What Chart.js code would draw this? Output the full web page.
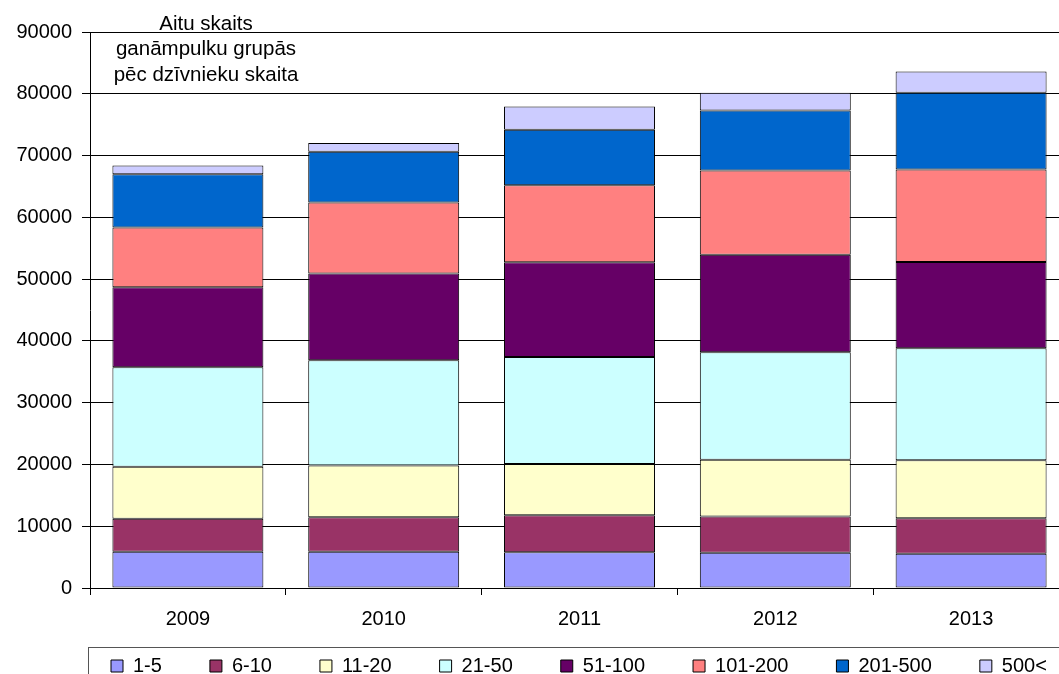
<!DOCTYPE html>
<html>
<head>
<meta charset="utf-8">
<script src="https://cdn.jsdelivr.net/npm/chart.js@4/dist/chart.umd.min.js"></script>
<style>
	html, body { margin: 0; padding: 0; background: #fff; overflow: hidden; }
	canvas { display: block; }
</style>
</head>
<body>
<canvas id="sheep-chart" width="1069" height="709"></canvas>
<script>
//Aitu skaits ganampulku grupas

var SheepYears = ['2009', '2010', '2011', '2012', '2013'];

var SheepGroupLabels = ['1-5', '6-10', '11-20', '21-50', '51-100', '101-200', '201-500', '500<'];

var SheepGroupColors = [
	'#9999FF',
	'#993366',
	'#FFFFCC',
	'#CCFFFF',
	'#660066',
	'#FF8080',
	'#0066CC',
	'#CCCCFF',
];

var Sheep1to5 = [5860, 5860, 5770, 5700, 5560];
var Sheep6to10 = [5330, 5600, 6020, 5860, 5720];
var Sheep11to20 = [8420, 8350, 8300, 9180, 9410];
var Sheep21to50 = [16120, 17050, 17310, 17420, 18100];
var Sheep51to100 = [12960, 14050, 15310, 15800, 13980];
var Sheep101to200 = [9670, 11510, 12490, 13610, 14970];
var Sheep201to500 = [8630, 8190, 8960, 9720, 12440];
var Sheep500plus = [1400, 1420, 3790, 2880, 3410];

var SheepTitleLines = ['Aitu skaits', 'ganāmpulku grupās', 'pēc dzīvnieku skaita'];

var SheepSeries = [Sheep1to5, Sheep6to10, Sheep11to20, Sheep21to50, Sheep51to100, Sheep101to200, Sheep201to500, Sheep500plus];

var SheepFont = 'Liberation Sans, Arial, sans-serif';

var SheepDatasets = SheepSeries.map(function(values, idx){
	return {
		label: SheepGroupLabels[idx],
		data: values,
		backgroundColor: SheepGroupColors[idx],
		borderColor: '#000',
		borderWidth: 1,
		borderSkipped: false,
		categoryPercentage: 1,
		barPercentage: 0.771,
	};
});

// title text in the top left corner + frame round the legend
var sheepExtras = {
	id: 'sheepExtras',
	afterLayout: function(chart){
		var lg = chart.legend;
		lg.left = 63;
		lg.right = 1300;
		lg.top = 608;
	},
	afterDraw: function(chart){
		var ctx = chart.ctx;
		ctx.save();
		ctx.fillStyle = '#000';
		ctx.font = '20.5px ' + SheepFont;
		ctx.textAlign = 'center';
		ctx.textBaseline = 'alphabetic';
		var baselines = [30, 55, 81];
		SheepTitleLines.forEach(function(line, i){
			ctx.fillText(line, 206, baselines[i]);
		});
		ctx.strokeStyle = '#555';
		ctx.lineWidth = 1;
		ctx.strokeRect(88.5, 647.5, 1100, 100);
		ctx.restore();
	}
};

window.addEventListener('load', function(){
	var SheepCtx = document.getElementById('sheep-chart').getContext('2d');
	var SheepChart = new Chart(SheepCtx, {
		type: 'bar',
		data: {
			labels: SheepYears,
			datasets: SheepDatasets
		},
		options: {
			responsive: false,
			maintainAspectRatio: false,
			animation: false,
			layout: {
				padding: { top: 32, right: 0, bottom: 0, left: 0 }
			},
			scales: {
				x: {
					stacked: true,
					offset: true,
					afterFit: function(scale){ scale.height = 43; },
					grid: {
						offset: true,
						drawOnChartArea: false,
						drawTicks: true,
						tickLength: 7,
						color: '#000',
					},
					border: { display: true, color: '#000', width: 1 },
					ticks: {
						color: '#000',
						padding: 12,
						font: { family: SheepFont, size: 20 },
					}
				},
				y: {
					stacked: true,
					min: 0,
					max: 90000,
					afterFit: function(scale){ scale.width = 90; },
					grid: {
						color: '#000',
						lineWidth: 1,
						tickLength: 8,
					},
					border: { display: true, color: '#000', width: 1 },
					ticks: {
						stepSize: 10000,
						color: '#000',
						padding: 10,
						font: { family: SheepFont, size: 20 },
						callback: function(value){ return String(value); }
					}
				}
			},
			plugins: {
				title: { display: false },
				tooltip: { enabled: false },
				legend: {
					display: true,
					position: 'bottom',
					align: 'start',
					labels: {
						boxWidth: 12,
						boxHeight: 12,
						padding: 48,
						color: '#000',
						font: { family: SheepFont, size: 20 },
					}
				}
			}
		},
		plugins: [sheepExtras]
	});
});
</script>
</body>
</html>
